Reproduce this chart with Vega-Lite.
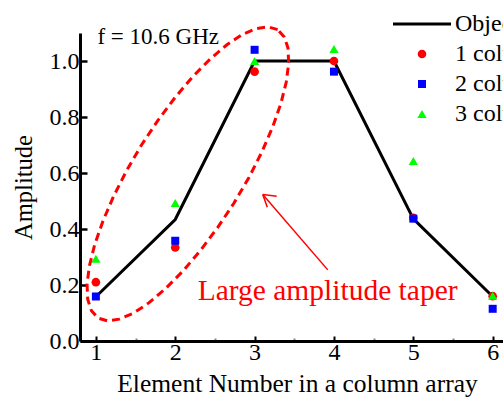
{
  "$schema": "https://vega.github.io/schema/vega-lite/v6.json",
  "autosize": "none",
  "width": 423,
  "height": 308,
  "padding": {"left": 80, "top": 33, "right": 0, "bottom": 61},
  "background": "white",
  "config": {
    "view": {"stroke": null},
    "font": "Liberation Serif"
  },
  "datasets": {
    "series": [
      {"element": 1, "amp": 0.158, "series": "Objective"},
      {"element": 2, "amp": 0.434, "series": "Objective"},
      {"element": 3, "amp": 1.0, "series": "Objective"},
      {"element": 4, "amp": 1.0, "series": "Objective"},
      {"element": 5, "amp": 0.436, "series": "Objective"},
      {"element": 6, "amp": 0.159, "series": "Objective"},
      {"element": 1, "amp": 0.21, "series": "1 column"},
      {"element": 2, "amp": 0.334, "series": "1 column"},
      {"element": 3, "amp": 0.962, "series": "1 column"},
      {"element": 4, "amp": 1.0, "series": "1 column"},
      {"element": 5, "amp": 0.44, "series": "1 column"},
      {"element": 6, "amp": 0.16, "series": "1 column"},
      {"element": 1, "amp": 0.159, "series": "2 columns"},
      {"element": 2, "amp": 0.358, "series": "2 columns"},
      {"element": 3, "amp": 1.04, "series": "2 columns"},
      {"element": 4, "amp": 0.962, "series": "2 columns"},
      {"element": 5, "amp": 0.437, "series": "2 columns"},
      {"element": 6, "amp": 0.115, "series": "2 columns"},
      {"element": 1, "amp": 0.294, "series": "3 columns"},
      {"element": 2, "amp": 0.493, "series": "3 columns"},
      {"element": 3, "amp": 1.0, "series": "3 columns"},
      {"element": 4, "amp": 1.043, "series": "3 columns"},
      {"element": 5, "amp": 0.643, "series": "3 columns"},
      {"element": 6, "amp": 0.162, "series": "3 columns"}
    ],
    "ellipse": [
      {"i": 0, "x": 3.290, "y": 1.112},
      {"i": 1, "x": 3.172, "y": 1.122},
      {"i": 2, "x": 3.023, "y": 1.116},
      {"i": 3, "x": 2.847, "y": 1.095},
      {"i": 4, "x": 2.651, "y": 1.058},
      {"i": 5, "x": 2.440, "y": 1.007},
      {"i": 6, "x": 2.220, "y": 0.944},
      {"i": 7, "x": 1.999, "y": 0.870},
      {"i": 8, "x": 1.782, "y": 0.788},
      {"i": 9, "x": 1.577, "y": 0.701},
      {"i": 10, "x": 1.390, "y": 0.610},
      {"i": 11, "x": 1.225, "y": 0.518},
      {"i": 12, "x": 1.090, "y": 0.429},
      {"i": 13, "x": 0.986, "y": 0.345},
      {"i": 14, "x": 0.919, "y": 0.269},
      {"i": 15, "x": 0.889, "y": 0.203},
      {"i": 16, "x": 0.897, "y": 0.149},
      {"i": 17, "x": 0.944, "y": 0.108},
      {"i": 18, "x": 1.028, "y": 0.082},
      {"i": 19, "x": 1.146, "y": 0.072},
      {"i": 20, "x": 1.295, "y": 0.078},
      {"i": 21, "x": 1.471, "y": 0.099},
      {"i": 22, "x": 1.667, "y": 0.136},
      {"i": 23, "x": 1.878, "y": 0.187},
      {"i": 24, "x": 2.098, "y": 0.250},
      {"i": 25, "x": 2.319, "y": 0.324},
      {"i": 26, "x": 2.536, "y": 0.406},
      {"i": 27, "x": 2.741, "y": 0.493},
      {"i": 28, "x": 2.929, "y": 0.584},
      {"i": 29, "x": 3.093, "y": 0.676},
      {"i": 30, "x": 3.229, "y": 0.765},
      {"i": 31, "x": 3.332, "y": 0.849},
      {"i": 32, "x": 3.399, "y": 0.925},
      {"i": 33, "x": 3.429, "y": 0.991},
      {"i": 34, "x": 3.421, "y": 1.046},
      {"i": 35, "x": 3.374, "y": 1.086},
      {"i": 36, "x": 3.290, "y": 1.112}
    ],
    "arrow": [
      {"x": 3.922, "y": 0.254, "x2": 3.103, "y2": 0.523},
      {"x": 3.103, "y": 0.523, "x2": 3.278, "y2": 0.517},
      {"x": 3.103, "y": 0.523, "x2": 3.160, "y2": 0.478}
    ],
    "notes": [
      {"x": 3.92, "y": 0.147, "label": "Large amplitude taper", "kind": "taper"},
      {"x": 1.02, "y": 1.061, "label": "f = 10.6 GHz", "kind": "freq"}
    ]
  },
  "layer": [
    {
      "data": {"name": "series"},
      "transform": [{"filter": "datum.series === 'Objective'"}],
      "mark": {"type": "line", "strokeWidth": 3},
      "encoding": {
        "x": {
          "field": "element", "type": "quantitative",
          "scale": {"domain": [0.8, 6.13], "nice": false, "zero": false},
          "axis": {
            "title": "Element Number in a column array",
            "titleFontSize": 25.5, "titleFont": "Liberation Serif", "titleFontWeight": "normal",
            "titleColor": "black", "titleX": 217, "titlePadding": 5,
            "values": [1, 1.5, 2, 2.5, 3, 3.5, 4, 4.5, 5, 5.5, 6],
            "labelExpr": "datum.value % 1 === 0 ? format(datum.value, 'd') : ''",
            "labelFontSize": 24, "labelFont": "Liberation Serif", "labelColor": "black",
            "labelPadding": 4, "labelFlush": false, "labelOverlap": false,
            "grid": false,
            "domainColor": "black", "domainWidth": 3,
            "tickColor": {"condition": {"test": "datum.value % 1 === 0", "value": "black"}, "value": "#888888"},
            "tickWidth": 2,
            "tickSize": {"condition": {"test": "datum.value % 1 === 0", "value": -5}, "value": -3}
          }
        },
        "y": {
          "field": "amp", "type": "quantitative",
          "scale": {"domain": [0, 1.1], "nice": false},
          "axis": {
            "title": "Amplitude",
            "titleFontSize": 24.5, "titleFont": "Liberation Serif", "titleFontWeight": "normal",
            "titleColor": "black", "titlePadding": 13,
            "values": [0, 0.1, 0.2, 0.3, 0.4, 0.5, 0.6, 0.7, 0.8, 0.9, 1.0, 1.1],
            "labelExpr": "round(datum.value * 10) % 2 === 0 ? format(datum.value, '.1f') : ''",
            "labelFontSize": 24, "labelFont": "Liberation Serif", "labelColor": "black",
            "labelPadding": 8, "labelFlush": false, "labelOverlap": false,
            "grid": false,
            "domainColor": "black", "domainWidth": 3,
            "tickColor": "black", "tickWidth": 2.5,
            "tickSize": {"condition": {"test": "round(datum.value * 10) % 2 === 0", "value": -7}, "value": -5}
          }
        },
        "color": {
          "field": "series", "type": "nominal",
          "scale": {
            "domain": ["Objective", "1 column", "2 columns", "3 columns"],
            "range": ["black", "#ff0000", "#0000ff", "#00ff00"]
          },
          "legend": {
            "title": null,
            "orient": "none",
            "legendX": 330,
            "legendY": -21,
            "labelFont": "Liberation Serif",
            "labelFontSize": 24,
            "labelColor": "black",
            "labelOffset": 21,
            "rowPadding": 6,
            "padding": 0,
            "labelLimit": 400,
            "encode": {
              "symbols": {
                "update": {
                  "stroke": {"scale": "color", "field": "value"},
                  "strokeWidth": {"signal": "datum.value === 'Objective' ? 3 : 0"},
                  "opacity": {"value": 1}
                }
              }
            }
          }
        }
      }
    },
    {
      "data": {"name": "series"},
      "transform": [{"filter": "datum.series !== 'Objective'"}],
      "mark": {"type": "point", "filled": true, "opacity": 1},
      "encoding": {
        "x": {"field": "element", "type": "quantitative"},
        "y": {"field": "amp", "type": "quantitative"},
        "color": {"field": "series", "type": "nominal"},
        "shape": {
          "field": "series", "type": "nominal",
          "scale": {
            "domain": ["Objective", "1 column", "2 columns", "3 columns"],
            "range": ["stroke", "circle", "square", "triangle-up"]
          }
        },
        "size": {
          "field": "series", "type": "nominal",
          "scale": {
            "type": "ordinal",
            "domain": ["Objective", "1 column", "2 columns", "3 columns"],
            "range": [3364, 75, 64, 85]
          }
        }
      }
    },
    {
      "data": {"name": "ellipse"},
      "mark": {"type": "line", "color": "#ff0000", "strokeWidth": 3, "strokeDash": [8, 5], "clip": false},
      "encoding": {
        "x": {"field": "x", "type": "quantitative"},
        "y": {"field": "y", "type": "quantitative"},
        "order": {"field": "i", "type": "quantitative"}
      }
    },
    {
      "data": {"name": "arrow"},
      "mark": {"type": "rule", "color": "#ff0000", "strokeWidth": 1.5},
      "encoding": {
        "x": {"field": "x", "type": "quantitative"},
        "y": {"field": "y", "type": "quantitative"},
        "x2": {"field": "x2"},
        "y2": {"field": "y2"}
      }
    },
    {
      "data": {"name": "notes"},
      "transform": [{"filter": "datum.kind === 'taper'"}],
      "mark": {"type": "text", "color": "#ff0000", "font": "Liberation Serif", "fontSize": 29.5, "align": "center", "baseline": "alphabetic"},
      "encoding": {
        "x": {"field": "x", "type": "quantitative"},
        "y": {"field": "y", "type": "quantitative"},
        "text": {"field": "label"}
      }
    },
    {
      "data": {"name": "notes"},
      "transform": [{"filter": "datum.kind === 'freq'"}],
      "mark": {"type": "text", "color": "black", "font": "Liberation Serif", "fontSize": 23, "align": "left", "baseline": "alphabetic"},
      "encoding": {
        "x": {"field": "x", "type": "quantitative"},
        "y": {"field": "y", "type": "quantitative"},
        "text": {"field": "label"}
      }
    }
  ]
}
